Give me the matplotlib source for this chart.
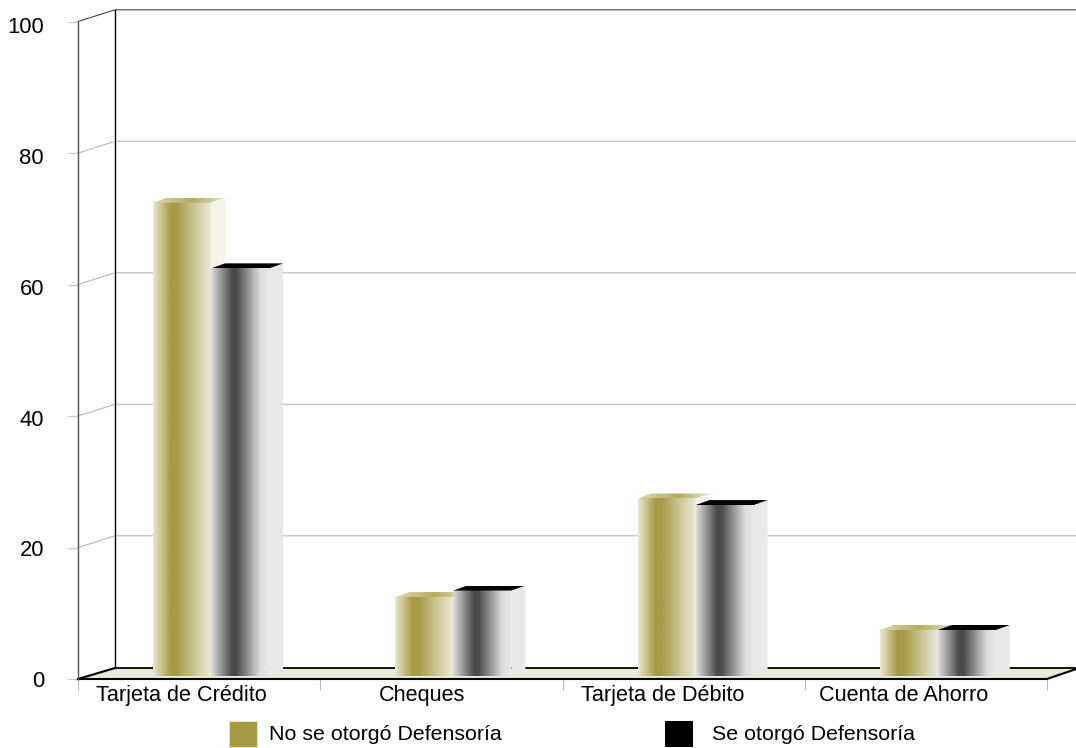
import matplotlib
matplotlib.use("Agg")
import matplotlib.pyplot as plt
import numpy as np
from matplotlib.colors import LinearSegmentedColormap
from matplotlib.patches import Polygon, Rectangle

plt.rcParams['font.family'] = ['Liberation Sans', 'DejaVu Sans']

categories = ["Tarjeta de Crédito", "Cheques", "Tarjeta de Débito", "Cuenta de Ahorro"]
no_otorgo = [72, 12, 27, 7]
si_otorgo = [62, 13, 26, 7]
series_names = ["No se otorgó Defensoría", "Se otorgó Defensoría"]
y_ticks = [0, 20, 40, 60, 80, 100]

W, H = 1076, 748
L, R, T, B = 78, 1047, 21.5, 679
ux = (R - L) / 4
uy = (B - T) / 100

fig = plt.figure(figsize=(W / 100, H / 100), dpi=100)
ax = fig.add_axes([L / W, 1 - B / H, (R - L) / W, (B - T) / H])

# depth of the fake 3d box and of the bars, in data units
wx, wy = 37 / ux, 11 / uy
dx, dy = 14 / ux, 5 / uy
bar_w = 58 / ux
base = 3 / uy
grid_wy = 11.7 / uy

gold = LinearSegmentedColormap.from_list("gold", [(0, "#ebe7d3"), (0.3, "#a69a45"), (0.4, "#a69a45"), (1, "#ece9d8")])
grey = LinearSegmentedColormap.from_list("grey", [(0, "#dedede"), (0.36, "#4a4a4a"), (0.44, "#4a4a4a"), (0.85, "#dcdcdc"), (1, "#e8e8e8")])
gold_top = LinearSegmentedColormap.from_list("gold_top", [(0, "#dfd9b4"), (0.55, "#b5aa5c"), (1, "#e6e2c6")])
ramp = np.linspace(0, 1, 128).reshape(1, -1)

# floor
ax.add_patch(Polygon([(0, 0), (wx, wy), (4 + 32 / ux, wy), (4, 0)], closed=True, fc="#ece9d8", ec="none", zorder=1, clip_on=False))
ax.plot([wx, 4 + 32 / ux], [wy, wy], color="black", lw=1.3, zorder=2, clip_on=False)
ax.plot([0, 4, 4 + 32 / ux], [0, 0, wy], color="black", lw=1.5, zorder=2, clip_on=False)
ax.plot([0, wx], [0, wy], color="black", lw=1.5, zorder=2, clip_on=False)

# back wall and grid
for v in y_ticks[1:]:
    top = v == 100
    ax.plot([0, wx, 4 + 29 / ux], [v, v + grid_wy, v + grid_wy], color="#444444" if top else "#b8b8b8", lw=0.8, zorder=1, clip_on=False)
ax.plot([wx, wx], [wy, 100 + grid_wy], color="black", lw=1, zorder=2, clip_on=False)


def draw_bar(x, v, cmap, side_col, top_cmap, z):
    h = v + base
    im = ax.imshow(ramp, cmap=cmap, extent=[x, x + bar_w, base, h], aspect="auto", zorder=z)
    im.set_clip_on(False)
    ax.add_patch(Polygon([(x + bar_w, base), (x + bar_w + dx, base + dy), (x + bar_w + dx, h + dy), (x + bar_w, h)],
                         closed=True, fc=side_col, ec="none", zorder=z, clip_on=False))
    top = Polygon([(x, h), (x + dx, h + dy), (x + bar_w + dx, h + dy), (x + bar_w, h)],
                  closed=True, fc="none", ec="none", zorder=z, transform=ax.transData)
    ax.add_patch(top)
    ti = ax.imshow(ramp, cmap=top_cmap, extent=[x, x + bar_w + dx, h, h + dy], aspect="auto", zorder=z)
    ti.set_clip_path(top)


black_top = LinearSegmentedColormap.from_list("black_top", ["black", "black"])
for i in range(len(categories)):
    x0 = i + 0.31
    draw_bar(x0, no_otorgo[i], gold, "#f4f4e9", gold_top, 3 + 2 * i)
    draw_bar(x0 + bar_w, si_otorgo[i], grey, "#e8e8e8", black_top, 4 + 2 * i)

ax.set_xlim(0, 4)
ax.set_ylim(0, 100)
ax.patch.set_alpha(0)
for s in ["top", "right", "bottom"]:
    ax.spines[s].set_visible(False)
ax.spines["left"].set_color("#555555")
ax.spines["left"].set_linewidth(1)
ax.spines["left"].set_zorder(2)

ax.set_xticks(range(5))
ax.set_yticks(y_ticks)
ax.tick_params(axis="x", length=8, width=0.8, color="#b8b8b8", labelbottom=False)
ax.tick_params(axis="y", length=7.2, width=0.8, color="#c4c4c4", labelleft=False)

# labels sit a bit off the ticks in the original
for v in y_ticks:
    ax.annotate(str(v), (0, v * 0.994), xycoords=ax.get_yaxis_transform(), xytext=(-34 * 0.72, 0), textcoords="offset points",
                ha="right", va="center_baseline", fontsize=15.8, color="black")
for i, c in enumerate(categories):
    ax.annotate(c, (i * 0.995 + 0.425, 0), xycoords=ax.get_xaxis_transform(), xytext=(0, -4.5), textcoords="offset points",
                ha="center", va="top", fontsize=15.6, color="black")

# legend
fig.add_artist(Rectangle((229 / W, 1 - 747 / H), 28 / W, 26 / H, transform=fig.transFigure, fc="#a69a45", ec="#e6e2c6", lw=0.8))
fig.add_artist(Rectangle((665 / W, 1 - 747 / H), 28 / W, 26 / H, transform=fig.transFigure, fc="black", ec="none"))
fig.text(269 / W, 1 - 734.5 / H, series_names[0], ha="left", va="center", fontsize=15.4, color="black")
fig.text(712 / W, 1 - 734.5 / H, series_names[1], ha="left", va="center", fontsize=15.4, color="black")

fig.savefig("out.png", dpi=100)
